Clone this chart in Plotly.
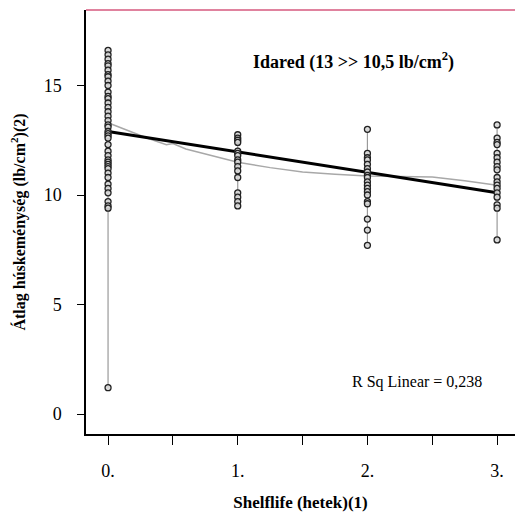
import plotly.graph_objects as go

# Firmness readings (lb/cm2) per storage week
weeks = [0, 1, 2, 3]
week0 = [16.6, 16.4, 16.2, 16.0, 15.9, 15.7, 15.5, 15.4, 15.2, 15.0, 14.7, 14.5,
         14.4, 14.2, 14.0, 13.8, 13.6, 13.4, 13.2, 13.1, 12.9, 12.8, 12.7, 12.6,
         12.3, 12.0, 11.8, 11.6, 11.5, 11.4, 11.3, 11.2, 11.0, 10.8, 10.5, 10.3,
         10.1, 9.7, 9.5, 9.4, 1.2]
week1 = [12.75, 12.6, 12.5, 12.4, 12.0, 11.9, 11.8, 11.6, 11.5, 11.3, 11.1,
         10.8, 10.1, 9.9, 9.7, 9.5]
week2 = [13.0, 11.9, 11.7, 11.6, 11.4, 11.2, 11.05, 10.9, 10.8, 10.6, 10.45,
         10.3, 10.15, 10.0, 9.7, 9.6, 8.9, 8.4, 7.7]
week3 = [13.2, 12.6, 12.4, 12.3, 11.9, 11.7, 11.5, 11.3, 11.15, 10.8, 10.6,
         10.45, 10.3, 10.1, 9.9, 9.55, 9.4, 7.95]
groups = [week0, week1, week2, week3]

# Linear fit line and loess smoother
fit_x = [0, 3]
fit_y = [12.9, 10.1]
loess_x = [0, 0.15, 0.3, 0.45, 0.5, 0.6, 0.8, 1.0, 1.25, 1.5, 1.75, 2.0, 2.25, 2.5, 2.75, 3.0]
loess_y = [13.3, 12.95, 12.6, 12.3, 12.35, 12.1, 11.8, 11.5, 11.25, 11.05, 10.95, 10.87, 10.85, 10.82, 10.65, 10.45]

x_tickvals = [0, 0.5, 1, 1.5, 2, 2.5, 3]
x_ticktext = ["0.", "", "1.", "", "2.", "", "3."]
y_tickvals = [0, 5, 10, 15]

title_text = "<b>Idared (13 >> 10,5 lb/cm<sup>2</sup>)</b>"
r2_text = "R Sq Linear = 0,238"
x_title = "Shelflife (hetek)(1)"
y_title = "Átlag húskeménység (lb/cm<sup>2</sup>)(2)"

SERIF = "Liberation Serif, Times New Roman, serif"

fig = go.Figure()

# range lines per week
for w, vals in zip(weeks, groups):
    fig.add_trace(go.Scatter(x=[w, w], y=[min(vals), max(vals)], mode="lines",
                             line=dict(color="#9a9a9a", width=1.2),
                             hoverinfo="skip", showlegend=False))

# loess smoother
fig.add_trace(go.Scatter(x=loess_x, y=loess_y, mode="lines",
                         line=dict(color="#a8a8a8", width=1.5), showlegend=False))

# linear fit
fig.add_trace(go.Scatter(x=fit_x, y=fit_y, mode="lines",
                         line=dict(color="black", width=3), showlegend=False))

# individual readings
for w, vals in zip(weeks, groups):
    fig.add_trace(go.Scatter(x=[w] * len(vals), y=vals, mode="markers",
                             marker=dict(symbol="circle", size=6, color="rgba(215,215,215,0.9)",
                                         line=dict(color="#222222", width=1.3)),
                             showlegend=False))

fig.add_annotation(x=1.89, y=16.1, xref="x", yref="y", text=title_text,
                   showarrow=False, font=dict(family=SERIF, size=18, color="black"))
fig.add_annotation(x=2.38, y=1.46, xref="x", yref="y", text=r2_text,
                   showarrow=False, font=dict(family=SERIF, size=16, color="black"))

# pink frame line along the top of the plot area
fig.add_shape(type="line", xref="paper", yref="paper", x0=0, x1=1, y0=1, y1=1,
              line=dict(color="#e0829e", width=2))

fig.update_layout(
    width=515, height=515,
    margin=dict(l=86, r=0, t=10, b=81),
    paper_bgcolor="white", plot_bgcolor="white",
    font=dict(family=SERIF, size=16, color="black"),
    xaxis=dict(range=[-0.17, 3.138], tickvals=x_tickvals, ticktext=x_ticktext,
               ticks="outside", ticklen=9, tickwidth=1.2, tickcolor="black",
               showline=True, linecolor="black", linewidth=1.5, showgrid=False,
               zeroline=False, ticklabelstandoff=11, tickfont=dict(size=18),
               title=dict(text="<b>" + x_title + "</b>", font=dict(size=17), standoff=16)),
    yaxis=dict(range=[-0.913, 18.447], tickvals=y_tickvals,
               ticks="outside", ticklen=7, tickwidth=1.2, tickcolor="black",
               showline=True, linecolor="black", linewidth=1.5, showgrid=False,
               zeroline=False, ticklabelstandoff=12, tickfont=dict(size=18),
               title=dict(text="<b>" + y_title + "</b>", font=dict(size=16), standoff=14)),
)

fig.write_html("out.html")
